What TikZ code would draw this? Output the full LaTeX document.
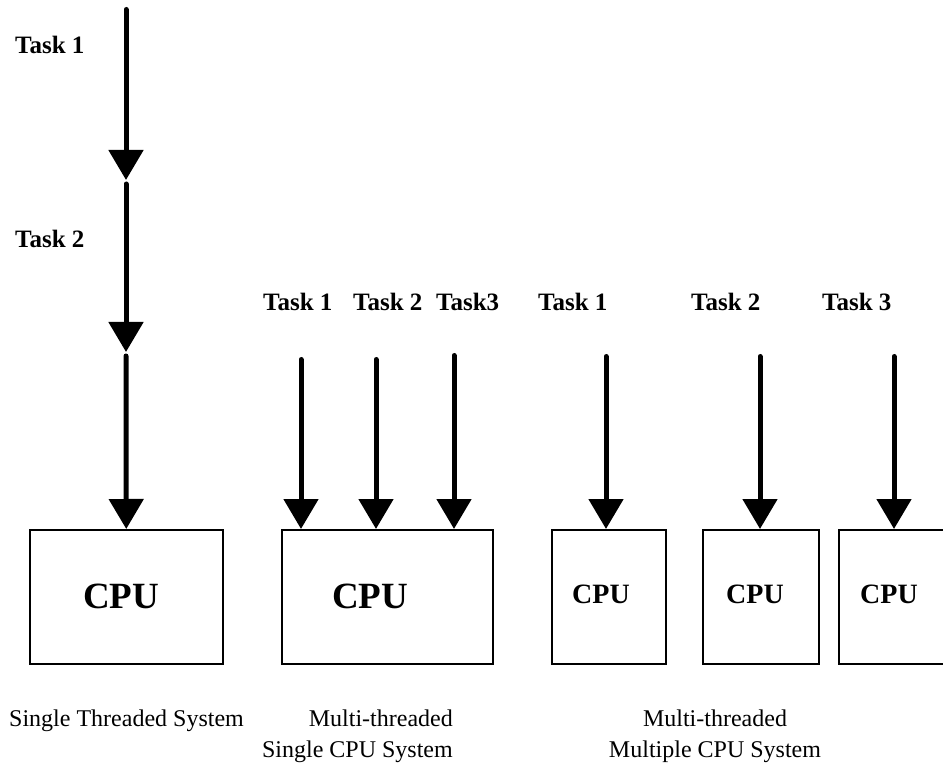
\documentclass[tikz,border=0pt]{standalone}
\usepackage{fontspec}
\setmainfont{Liberation Serif}
\usetikzlibrary{arrows.meta}
\begin{document}
\begin{tikzpicture}[x=1pt,y=-1pt,
  flow/.style={line width=5pt, line cap=round, -{Triangle[width=34pt,length=30pt]}},
  cpubox/.style={draw, line width=1.5pt, rectangle, inner sep=0pt, anchor=north west, minimum height=134pt},
  tasklabel/.style={font=\fontsize{25}{30}\selectfont\bfseries, anchor=base west, inner sep=0pt},
  bigcpu/.style={font=\fontsize{37}{44}\selectfont\bfseries, anchor=base west, inner sep=0pt},
  smallcpu/.style={font=\fontsize{28}{34}\selectfont\bfseries, anchor=base west, inner sep=0pt},
  caption/.style={font=\fontsize{24}{29}\selectfont, inner sep=0pt}
]
\useasboundingbox (0,0) rectangle (943,767);
\clip (0,0) rectangle (943,767);

% processor boxes
\node[cpubox, minimum width=193pt] (box1) at (29,529) {};
\node[cpubox, minimum width=211pt] (box2) at (281,529) {};
\node[cpubox, minimum width=114pt] (box3) at (551,529) {};
\node[cpubox, minimum width=116pt] (box4) at (702,529) {};
\node[cpubox, minimum width=116pt] (box5) at (838,529) {};

% box labels
\node[bigcpu] (cpu1) at (83,608) {CPU};
\node[bigcpu] (cpu2) at (332,608) {CPU};
\node[smallcpu] (cpu3) at (572,603) {CPU};
\node[smallcpu] (cpu4) at (726,603) {CPU};
\node[smallcpu] (cpu5) at (860,603) {CPU};

% single threaded: tasks run one after another
\coordinate (s0) at (126,9.5);
\coordinate (s1) at (126,180);
\coordinate (s2) at (126,352);
\draw[flow] (s0) -- (s1);
\draw[flow] ([yshift=-4pt]s1) -- (s2);
\draw[flow] ([yshift=-4pt]s2) -- (box1.north);
\node[tasklabel] (st1) at (15,54) {Task 1};
\node[tasklabel] (st2) at (15,248) {Task 2};

% multi-threaded, one processor
\coordinate (m1) at (301,359.5);
\coordinate (m2) at (376,359.5);
\coordinate (m3) at (454,355.5);
\draw[flow] (m1) -- (m1 |- box2.north);
\draw[flow] (m2) -- (m2 |- box2.north);
\draw[flow] (m3) -- (m3 |- box2.north);
\node[tasklabel] (mt1) at (263,311) {Task 1};
\node[tasklabel] (mt2) at (353,311) {Task 2};
\node[tasklabel] (mt3) at (436,311) {Task3};

% multi-threaded, several processors
\coordinate (p1) at (606,356.5);
\coordinate (p2) at (760,356.5);
\coordinate (p3) at (894,356.5);
\draw[flow] (p1) -- (p1 |- box3.north);
\draw[flow] (p2) -- (p2 |- box4.north);
\draw[flow] (p3) -- (p3 |- box5.north);
\node[tasklabel] (pt1) at (538,311) {Task 1};
\node[tasklabel] (pt2) at (691,311) {Task 2};
\node[tasklabel] (pt3) at (822,311) {Task 3};

% captions
\node[caption, anchor=base west] (c1) at (9,726) {Single Threaded System};
\node[caption, anchor=base east] (c2a) at (453,726) {Multi-threaded};
\node[caption, anchor=base east] (c2b) at (453,757) {Single CPU System};
\node[caption, anchor=base] (c3a) at (715,726) {Multi-threaded};
\node[caption, anchor=base] (c3b) at (715,757) {Multiple CPU System};
\end{tikzpicture}
\end{document}
